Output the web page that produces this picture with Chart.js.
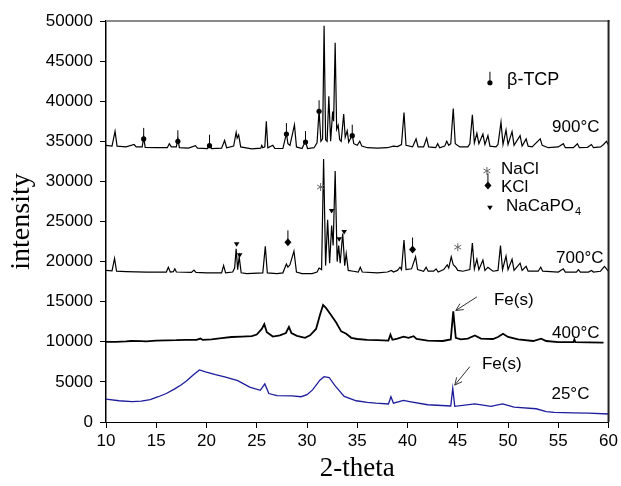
<!DOCTYPE html>
<html>
<head>
<meta charset="utf-8">
<script src="https://cdn.jsdelivr.net/npm/chart.js@4.4.1/dist/chart.umd.min.js"></script>
<style>
  html, body { margin: 0; padding: 0; background: #fff; }
</style>
</head>
<body>
<canvas id="chart" width="621" height="486"></canvas>
<script>
// 2-theta / intensity
var theta900 = [10.0, 10.6, 10.9, 11.1, 12.0, 12.8, 13.0, 13.6, 13.75, 13.9, 15.0, 16.1, 16.3, 16.5, 17.0, 17.15, 17.3, 18.2, 18.9, 19.1,
  20.1, 20.3, 20.5, 21.5, 21.8, 22.0, 22.7, 22.95, 23.05, 23.2, 23.4, 24.5, 25.4, 25.5, 25.6, 25.8, 25.95, 26.1, 26.6, 26.8,
  27.6, 27.95, 28.1, 28.3, 28.75, 28.95, 29.5, 29.85, 30.05, 30.7, 31.0, 31.2, 31.38, 31.55, 31.7, 31.85, 32.0, 32.17, 32.35, 32.55,
  32.65, 32.8, 32.95, 33.1, 33.25, 33.4, 33.65, 33.8, 34.0, 34.15, 34.3, 34.5, 34.65, 35.0, 35.25, 35.45, 36.0, 37.0, 38.0, 38.6,
  39.0, 39.4, 39.65, 39.85, 40.5, 40.85, 41.05, 41.6, 41.9, 42.1, 42.8, 43.0, 43.2, 43.7, 43.9, 44.1, 44.3, 44.55, 44.75, 45.2,
  46.0, 46.2, 46.45, 46.65, 46.9, 47.1, 47.5, 47.7, 48.0, 48.2, 48.8, 49.0, 49.3, 49.5, 49.8, 50.0, 50.4, 50.6, 51.2, 51.4,
  51.8, 52.0, 52.4, 53.2, 53.4, 54.0, 55.0, 55.5, 55.7, 56.5, 56.9, 57.1, 57.9, 58.3, 58.5, 59.2, 59.5, 59.8, 60.0];
var int900 = [34500, 34400, 36250, 34400, 34300, 34600, 34300, 34300, 35500, 34250, 34200, 34200, 34700, 34300, 34300, 35300, 34200, 34150, 34450, 34150,
  34100, 34600, 34100, 34150, 35100, 34200, 34400, 36100, 35400, 35800, 34300, 34050, 34150, 34500, 34200, 34300, 37500, 34200, 34500, 34100,
  34100, 36000, 34700, 34500, 37050, 34300, 34100, 35000, 34100, 34200, 34800, 38900, 35000, 35300, 49400, 35200, 35000, 40600, 35000, 38700,
  37500, 47300, 36500, 37000, 35200, 35000, 38400, 35500, 36300, 34900, 35300, 35800, 34700, 34500, 35000, 34400, 34200, 34150, 34200, 34400,
  34350, 34600, 38600, 34500, 34300, 35300, 34300, 34300, 35400, 34300, 34200, 34700, 34200, 34400, 35000, 34500, 34700, 39100, 34700, 34300,
  34300, 34700, 38300, 34800, 36000, 34700, 35900, 34600, 35700, 34400, 34300, 34600, 37400, 34600, 36400, 34600, 36200, 34500, 35700, 34400,
  35300, 34400, 34300, 35300, 34500, 34200, 34300, 34700, 34200, 34200, 34700, 34200, 34250, 34600, 34200, 34300, 34600, 35000, 34500];

var theta700 = [10.0, 10.6, 10.85, 11.05, 12.0, 14.0, 16.0, 16.2, 16.4, 16.7, 16.85, 17.0, 18.5, 18.75, 18.95, 20.0, 21.5, 21.7, 21.9, 22.6,
  22.8, 22.95, 23.1, 23.25, 23.45, 24.0, 25.6, 25.85, 26.05, 27.0, 27.6, 27.95, 28.1, 28.3, 28.7, 28.95, 29.5, 30.5, 31.0, 31.2,
  31.45, 31.65, 31.85, 32.05, 32.25, 32.45, 32.6, 32.8, 33.0, 33.15, 33.3, 33.55, 33.75, 33.9, 34.1, 34.6, 35.1, 35.3, 35.5, 37.0,
  38.0, 38.4, 38.6, 39.0, 39.25, 39.4, 39.65, 39.85, 40.4, 40.8, 41.0, 41.6, 41.85, 42.05, 42.6, 42.85, 43.05, 43.6, 43.95, 44.1,
  44.35, 44.55, 44.8, 45.0, 45.5, 46.2, 46.45, 46.65, 46.9, 47.1, 47.5, 47.7, 48.0, 48.5, 49.0, 49.25, 49.45, 49.8, 50.0, 50.4,
  50.6, 51.2, 51.4, 51.8, 52.0, 53.0, 53.25, 53.45, 55.0, 55.5, 55.7, 56.8, 57.0, 57.2, 58.0, 58.3, 58.5, 59.2, 59.6, 59.85, 60.0];
var int700 = [18900, 18850, 20400, 18800, 18750, 18700, 18700, 19300, 18700, 18750, 19100, 18700, 18650, 18950, 18650, 18600, 18600, 19500, 18600, 18700,
  19200, 21600, 19000, 20600, 18600, 18500, 18600, 21900, 18600, 18500, 18600, 19700, 19300, 19600, 21300, 18700, 18500, 18500, 18700, 19200,
  19000, 32800, 19500, 25200, 19800, 24500, 22000, 31300, 20000, 22000, 19800, 23500, 19500, 21000, 18900, 18800, 18700, 19300, 18700, 18600,
  18700, 18900, 18700, 18900, 19300, 19000, 22700, 19000, 19100, 20600, 19000, 18800, 19300, 18800, 18800, 19100, 18700, 19000, 19600, 19200,
  20600, 19600, 19300, 18900, 18800, 19000, 22300, 19100, 20300, 19000, 20200, 18900, 19300, 18800, 18900, 22000, 19000, 20700, 19000, 20300,
  18900, 19800, 18900, 19400, 18800, 18800, 19300, 18800, 18700, 19100, 18700, 18700, 19000, 18700, 18700, 18900, 18700, 18800, 19400, 19000, 18800];

var theta400 = [10.0, 11.0, 12.0, 12.5, 13.5, 14.0, 15.0, 16.0, 17.0, 18.0, 19.0, 19.4, 19.6, 20.5, 21.5, 22.5, 23.5, 24.5, 25.0, 25.5,
  25.75, 26.0, 26.6, 27.3, 27.9, 28.2, 28.45, 29.0, 29.8, 30.3, 30.9, 31.3, 31.6, 31.9, 32.3, 32.9, 33.4, 33.9, 34.4, 35.0,
  36.0, 37.0, 38.1, 38.3, 38.5, 39.0, 39.6, 40.1, 40.6, 40.9, 42.0, 43.5, 44.3, 44.55, 44.8, 45.3, 46.0, 46.7, 47.3, 48.5,
  49.0, 49.5, 50.0, 51.0, 52.5, 53.3, 53.8, 55.0, 56.5, 56.6, 56.7, 58.0, 59.5];
var int400 = [10000, 9980, 10050, 10100, 10080, 10050, 10150, 10180, 10200, 10250, 10250, 10400, 10250, 10300, 10450, 10600, 10650, 10700, 10900, 11600,
  12200, 11200, 10650, 10800, 11100, 11850, 11100, 10750, 10500, 10800, 11600, 13400, 14600, 14200, 13500, 12400, 11300, 11000, 10500, 10350,
  10250, 10200, 10150, 10900, 10250, 10400, 10650, 10500, 10700, 10350, 10150, 10100, 10300, 13800, 10500, 10300, 10400, 10800, 10400, 10350,
  10600, 11000, 10600, 10300, 10100, 10400, 10100, 9950, 9950, 10300, 9950, 9930, 9900];

var theta25 = [10.0, 11.3, 12.6, 13.5, 14.4, 15.2, 16.0, 16.8, 17.5, 18.0, 18.7, 19.3, 19.9, 20.9, 21.9, 23.1, 24.3, 25.35, 25.8, 26.2,
  27.0, 28.5, 29.4, 30.0, 30.55, 31.3, 31.7, 32.2, 32.8, 33.7, 34.9, 36.0, 36.85, 38.1, 38.35, 38.6, 39.6, 40.2, 42.0, 44.3,
  44.5, 44.7, 46.7, 48.3, 49.45, 50.6, 52.8, 53.8, 54.6, 56.5, 58.0, 60.0];
var int25 = [2850, 2650, 2550, 2600, 2800, 3150, 3550, 4100, 4650, 5100, 5900, 6500, 6250, 5900, 5600, 5150, 4350, 3950, 4750, 3550,
  3300, 3250, 3150, 3400, 4000, 5250, 5650, 5550, 4500, 3200, 2650, 2450, 2350, 2250, 3150, 2350, 2700, 2550, 2150, 2000,
  4200, 1950, 2250, 1950, 2250, 1850, 1650, 1300, 1200, 1150, 1100, 1000];

// phase markers (2-theta, intensity)
var tcpX = [13.75, 17.15, 20.3, 27.95, 29.85, 31.2, 34.5];
var tcpY = [35300, 35000, 34450, 35900, 34900, 38750, 35700];
var kclX = [28.1, 40.5];
var kclY = [22400, 21500];
var nacapoX = [23.0, 23.3, 32.45, 33.2, 33.7];
var nacapoY = [22150, 20800, 26300, 22800, 23700];
var naclX = [31.35, 45.0];
var naclY = [29300, 21800];

var yTicks = [0, 5000, 10000, 15000, 20000, 25000, 30000, 35000, 40000, 45000, 50000];

function pts(xs, ys) {
  return xs.map(function (x, i) { return { x: x, y: ys[i] }; });
}

function drawTcp(ctx, x, y) {
  ctx.beginPath();
  ctx.moveTo(x, y - 11);
  ctx.lineTo(x, y);
  ctx.stroke();
  ctx.beginPath();
  ctx.arc(x, y, 2.6, 0, Math.PI * 2);
  ctx.fill();
}
function drawKcl(ctx, x, y) {
  ctx.beginPath();
  ctx.moveTo(x, y - 12);
  ctx.lineTo(x, y - 3);
  ctx.stroke();
  ctx.beginPath();
  ctx.moveTo(x, y - 4);
  ctx.lineTo(x + 3.5, y);
  ctx.lineTo(x, y + 4);
  ctx.lineTo(x - 3.5, y);
  ctx.closePath();
  ctx.fill();
}
function drawTri(ctx, x, y) {
  ctx.beginPath();
  ctx.moveTo(x - 2.8, y - 2);
  ctx.lineTo(x + 2.8, y - 2);
  ctx.lineTo(x, y + 2.5);
  ctx.closePath();
  ctx.fill();
}
function drawStar(ctx, x, y) {
  ctx.save();
  ctx.strokeStyle = '#666';
  ctx.lineWidth = 1;
  for (var k = 0; k < 3; k++) {
    var a = Math.PI / 2 + k * Math.PI / 3;
    ctx.beginPath();
    ctx.moveTo(x - 4 * Math.cos(a), y - 4 * Math.sin(a));
    ctx.lineTo(x + 4 * Math.cos(a), y + 4 * Math.sin(a));
    ctx.stroke();
  }
  ctx.restore();
}
function arrow(ctx, x1, y1, x2, y2) {
  ctx.beginPath();
  ctx.moveTo(x1, y1);
  ctx.lineTo(x2, y2);
  ctx.stroke();
  var ang = Math.atan2(y2 - y1, x2 - x1);
  ctx.beginPath();
  ctx.moveTo(x2 - 8 * Math.cos(ang - 0.45), y2 - 8 * Math.sin(ang - 0.45));
  ctx.lineTo(x2, y2);
  ctx.lineTo(x2 - 8 * Math.cos(ang + 0.45), y2 - 8 * Math.sin(ang + 0.45));
  ctx.stroke();
}

var notesPlugin = {
  id: 'notes',
  afterDatasetsDraw: function (chart) {
    var ctx = chart.ctx;
    var sx = chart.scales.x, sy = chart.scales.y;
    var X = function (v) { return sx.getPixelForValue(v); };
    var Y = function (v) { return sy.getPixelForValue(v); };
    var area = chart.chartArea;
    ctx.save();
    // frame top and right
    ctx.lineWidth = 2;
    ctx.strokeStyle = '#8a8a8a';
    ctx.beginPath();
    ctx.moveTo(area.left, area.top);
    ctx.lineTo(area.right + 1, area.top);
    ctx.stroke();
    ctx.strokeStyle = '#222';
    ctx.beginPath();
    ctx.moveTo(area.right, area.top - 1);
    ctx.lineTo(area.right, area.bottom);
    ctx.stroke();

    ctx.fillStyle = '#000';
    ctx.strokeStyle = '#000';
    ctx.lineWidth = 1;
    var i;
    for (i = 0; i < tcpX.length; i++) drawTcp(ctx, X(tcpX[i]), Y(tcpY[i]));
    for (i = 0; i < kclX.length; i++) drawKcl(ctx, X(kclX[i]), Y(kclY[i]));
    for (i = 0; i < nacapoX.length; i++) drawTri(ctx, X(nacapoX[i]), Y(nacapoY[i]));
    for (i = 0; i < naclX.length; i++) drawStar(ctx, X(naclX[i]), Y(naclY[i]));

    // key
    drawTcp(ctx, X(48.2), Y(42300));
    drawStar(ctx, X(47.9), Y(31300));
    drawKcl(ctx, X(48.0), Y(29500));
    drawTri(ctx, X(48.2), Y(26700));

    var sans = '"Liberation Sans", Arial, sans-serif';
    ctx.textBaseline = 'middle';
    ctx.textAlign = 'left';
    ctx.font = '18px ' + sans;
    ctx.fillText('\u03B2-TCP', X(49.9), Y(42700));
    ctx.font = '17px ' + sans;
    ctx.fillText('NaCl', X(49.3), Y(31500));
    ctx.fillText('KCl', X(49.3), Y(29300));
    ctx.fillText('NaCaPO', X(49.8), Y(26900));
    var w = ctx.measureText('NaCaPO').width;
    ctx.font = '11px ' + sans;
    ctx.fillText('4', X(49.8) + w + 1, Y(26900) + 6);

    ctx.font = '17px ' + sans;
    ctx.textAlign = 'right';
    ctx.fillText('900\u00B0C', X(59.1), Y(36800));
    ctx.fillText('700\u00B0C', X(59.5), Y(20400));
    ctx.fillText('400\u00B0C', X(59.1), Y(11100));
    ctx.fillText('25\u00B0C', X(58.1), Y(3400));

    ctx.textAlign = 'left';
    ctx.fillText('Fe(s)', X(48.6), Y(15200));
    ctx.fillText('Fe(s)', X(47.4), Y(7200));
    ctx.strokeStyle = '#333';
    arrow(ctx, X(46.9), Y(15600), X(44.8), Y(13900));
    arrow(ctx, X(46.2), Y(6900), X(44.7), Y(4600));
    ctx.restore();
  }
};

var ctx = document.getElementById('chart').getContext('2d');
var chart = new Chart(ctx, {
  type: 'scatter',
  data: {
    datasets: [{
      label: '900\u00B0C',
      data: pts(theta900, int900),
      showLine: true,
      borderColor: '#000',
      borderWidth: 1.2,
      pointRadius: 0
    }, {
      label: '700\u00B0C',
      data: pts(theta700, int700),
      showLine: true,
      borderColor: '#000',
      borderWidth: 1.2,
      pointRadius: 0
    }, {
      label: '400\u00B0C',
      data: pts(theta400, int400),
      showLine: true,
      borderColor: '#000',
      borderWidth: 1.8,
      pointRadius: 0
    }, {
      label: '25\u00B0C',
      data: pts(theta25, int25),
      showLine: true,
      borderColor: '#1c1c9c',
      borderWidth: 1.3,
      pointRadius: 0
    }]
  },
  options: {
    responsive: false,
    animation: false,
    devicePixelRatio: 1,
    layout: { padding: { left: 0, right: 12, top: 21, bottom: 0 } },
    plugins: {
      legend: { display: false },
      tooltip: { enabled: false }
    },
    scales: {
      x: {
        type: 'linear',
        min: 10,
        max: 60,
        afterFit: function (s) { s.height = 64; },
        ticks: {
          stepSize: 5,
          color: '#000',
          padding: 3,
          font: { family: '"Liberation Sans", Arial, sans-serif', size: 17 }
        },
        grid: { drawOnChartArea: false, drawTicks: true, tickLength: 6, color: '#000' },
        border: { color: '#000', width: 1 },
        title: {
          display: true,
          text: '2-theta',
          color: '#000',
          padding: { top: 0, bottom: 1 },
          font: { family: '"Liberation Serif", "Times New Roman", serif', size: 27 }
        }
      },
      y: {
        min: 0,
        max: 50000,
        afterFit: function (s) { s.width = 106; },
        afterBuildTicks: function (s) { s.ticks = yTicks.map(function (v) { return { value: v }; }); },
        ticks: {
          color: '#000',
          padding: 7,
          callback: function (v) { return String(v); },
          font: { family: '"Liberation Sans", Arial, sans-serif', size: 17 }
        },
        grid: { drawOnChartArea: false, drawTicks: true, tickLength: 6, color: '#000' },
        border: { color: '#000', width: 1.5 },
        title: {
          display: true,
          text: 'intensity',
          color: '#000',
          padding: { top: 5, bottom: 0 },
          font: { family: '"Liberation Serif", "Times New Roman", serif', size: 28 }
        }
      }
    }
  },
  plugins: [notesPlugin]
});
</script>
</body>
</html>
